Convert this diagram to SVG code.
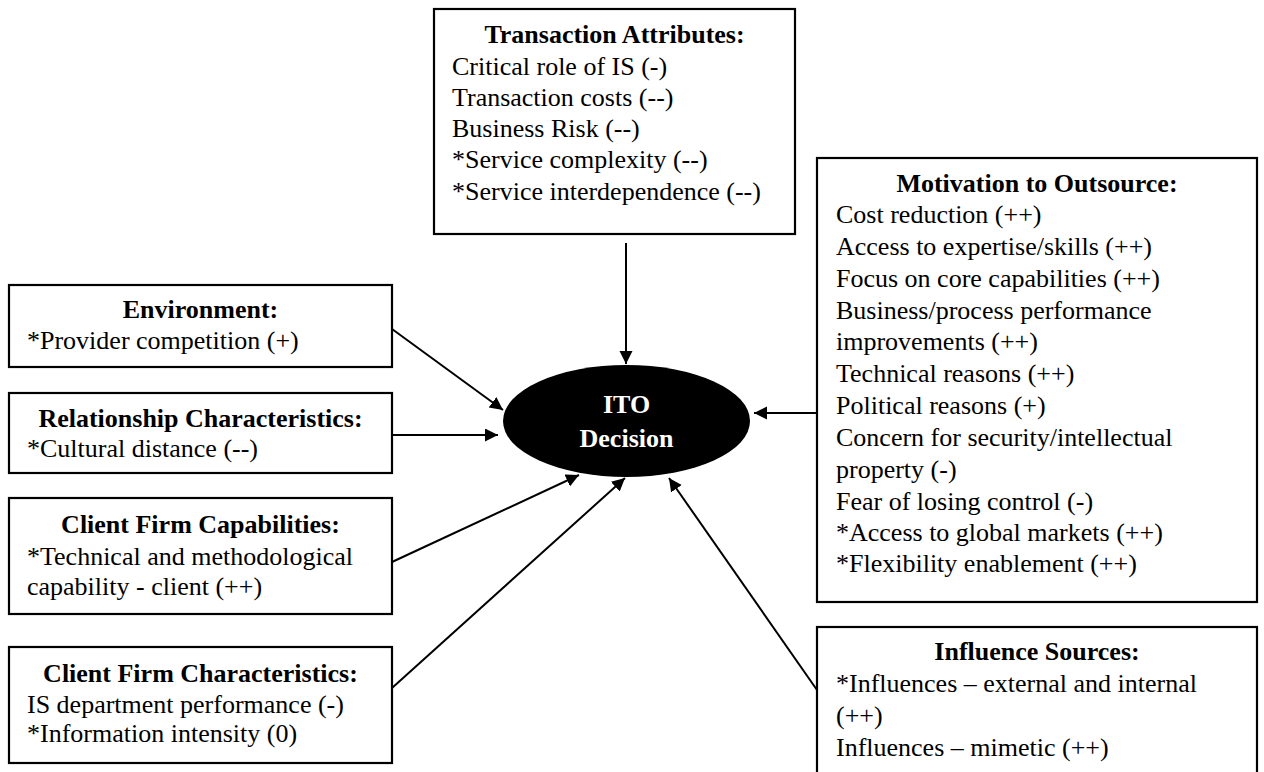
<svg xmlns="http://www.w3.org/2000/svg" width="1264" height="772" viewBox="0 0 1264 772">
<style>
.box{fill:#fff;stroke:#000;stroke-width:2.2}
.t{font-family:"Liberation Serif","Times New Roman",serif;font-size:26px;fill:#000}
.h{font-weight:bold;text-anchor:middle}
.c{stroke:#000;stroke-width:2;fill:none;marker-end:url(#ah)}
.w{fill:#fff;font-weight:bold;text-anchor:middle}
</style>
<defs>
<marker id="ah" markerUnits="userSpaceOnUse" markerWidth="14" markerHeight="14" refX="13" refY="6.5" orient="auto">
<path d="M0,0 L13,6.5 L0,13 z" fill="#000"/>
</marker>
</defs>
<rect width="1264" height="772" fill="#fff"/>
<g id="transaction">
<rect class="box" x="434" y="9" width="361" height="225"/>
<text class="t h" x="614.5" y="43">Transaction Attributes:</text>
<text class="t" x="452" y="75">Critical role of IS (-)</text>
<text class="t" x="452" y="106">Transaction costs (--)</text>
<text class="t" x="452" y="137">Business Risk (--)</text>
<text class="t" x="452" y="168">*Service complexity (--)</text>
<text class="t" x="452" y="200">*Service interdependence (--)</text>
</g>
<g id="environment">
<rect class="box" x="9" y="285" width="383" height="82"/>
<text class="t h" x="200.5" y="318">Environment:</text>
<text class="t" x="27" y="349">*Provider competition (+)</text>
</g>
<g id="relationship">
<rect class="box" x="9" y="393" width="383" height="80"/>
<text class="t h" x="200.5" y="427">Relationship Characteristics:</text>
<text class="t" x="27" y="457">*Cultural distance (--)</text>
</g>
<g id="capabilities">
<rect class="box" x="9" y="498" width="383" height="116"/>
<text class="t h" x="200.5" y="533">Client Firm Capabilities:</text>
<text class="t" x="27" y="565">*Technical and methodological</text>
<text class="t" x="27" y="595">capability - client (++)</text>
</g>
<g id="characteristics">
<rect class="box" x="9" y="647" width="383" height="116"/>
<text class="t h" x="200.5" y="682">Client Firm Characteristics:</text>
<text class="t" x="27" y="713">IS department performance (-)</text>
<text class="t" x="27" y="742">*Information intensity (0)</text>
</g>
<g id="motivation">
<rect class="box" x="817" y="158" width="440" height="444"/>
<text class="t h" x="1037" y="192">Motivation to Outsource:</text>
<text class="t" x="836" y="223">Cost reduction (++)</text>
<text class="t" x="836" y="255">Access to expertise/skills (++)</text>
<text class="t" x="836" y="287">Focus on core capabilities (++)</text>
<text class="t" x="836" y="319">Business/process performance</text>
<text class="t" x="836" y="350">improvements (++)</text>
<text class="t" x="836" y="382">Technical reasons (++)</text>
<text class="t" x="836" y="414">Political reasons (+)</text>
<text class="t" x="836" y="446">Concern for security/intellectual</text>
<text class="t" x="836" y="478">property (-)</text>
<text class="t" x="836" y="510">Fear of losing control (-)</text>
<text class="t" x="836" y="541">*Access to global markets (++)</text>
<text class="t" x="836" y="572">*Flexibility enablement (++)</text>
</g>
<g id="influence">
<rect class="box" x="817" y="627" width="440" height="170"/>
<text class="t h" x="1037" y="660">Influence Sources:</text>
<text class="t" x="836" y="692">*Influences – external and internal</text>
<text class="t" x="836" y="724">(++)</text>
<text class="t" x="836" y="756">Influences – mimetic (++)</text>
</g>
<g id="decision">
<ellipse cx="626.5" cy="421" rx="123.5" ry="56" fill="#000"/>
<text class="t w" x="626.5" y="413">ITO</text>
<text class="t w" x="626.5" y="447">Decision</text>
</g>
<g id="connectors">
<line class="c" x1="626" y1="243" x2="626" y2="364"/>
<line class="c" x1="392" y1="329" x2="503" y2="410"/>
<line class="c" x1="392" y1="435" x2="498" y2="435"/>
<line class="c" x1="392" y1="562" x2="579" y2="475"/>
<line class="c" x1="392" y1="688" x2="625" y2="478"/>
<line class="c" x1="817" y1="413" x2="754" y2="413"/>
<line class="c" x1="817" y1="690" x2="669" y2="478"/>
</g>
</svg>
